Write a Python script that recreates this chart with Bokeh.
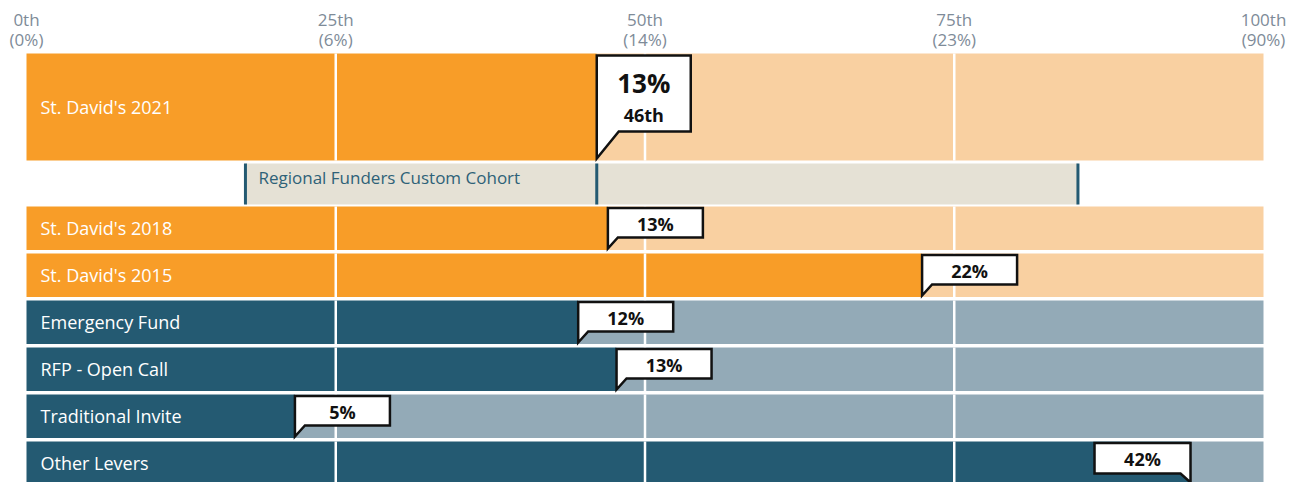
from bokeh.plotting import figure
from bokeh.models import Range1d, ColumnDataSource
from bokeh.core.properties import value
from bokeh.embed import file_html
from bokeh.resources import INLINE

# ---------------- data ----------------
categories = ["St. David's 2021", "St. David's 2018", "St. David's 2015",
              "Emergency Fund", "RFP - Open Call", "Traditional Invite", "Other Levers"]
percentiles = [46.1, 47.0, 72.4, 44.6, 47.7, 21.7, 94.1]
value_labels = ["13%", "13%", "22%", "12%", "13%", "5%", "42%"]
groups = ["org", "org", "org", "lever", "lever", "lever", "lever"]
highlight_rank = "46th"

tick_pcts = [0, 25, 50, 75, 100]
tick_ranks = ["0th", "25th", "50th", "75th", "100th"]
tick_values = ["(0%)", "(6%)", "(14%)", "(23%)", "(90%)"]

cohort_name = "Regional Funders Custom Cohort"
cohort_low, cohort_mid, cohort_high = 17.7, 46.1, 85

# ---------------- styling / layout ----------------
FONT = value("Open Sans")
DARK = {"org": "#F89D28", "lever": "#245A72"}
LIGHT = {"org": "#F9D0A1", "lever": "#93AAB7"}
BEIGE = "#E5E1D5"
MARK = "#245A72"
GREY = "#7E8B98"

W, H = 1299, 482
SCALE = 12.37          # px per percentile unit
LEFT_PX = 26           # px from figure left to 0th
def px(n):
    return n / SCALE

x0 = -LEFT_PX / SCALE
x1 = x0 + W / SCALE

p = figure(width=W, height=H, x_range=Range1d(x0, x1), y_range=Range1d(H, 0),
           output_backend="svg", toolbar_location=None, min_border=0,
           x_axis_location=None, y_axis_location=None)
p.grid.visible = False
p.outline_line_color = None
p.background_fill_color = "white"

# row geometry (pixel based y coordinates, top-down)
tops = [53]
bottoms = [160]
for i in range(1, len(categories)):
    t = 206 + 47 * (i - 1)
    tops.append(t)
    bottoms.append(t + 43.5)
cohort_top, cohort_bottom = 163, 204

dark_c = [DARK[g] for g in groups]
light_c = [LIGHT[g] for g in groups]

src = ColumnDataSource(dict(cat=categories, pct=percentiles, top=tops, bottom=bottoms,
                            zero=[0] * len(categories), full=[100] * len(categories),
                            dark=dark_c, light=light_c,
                            mid=[(a + b) / 2 for a, b in zip(tops, bottoms)]))

p.quad(left="zero", right="pct", top="top", bottom="bottom", fill_color="dark",
       line_color=None, source=src)
p.quad(left="pct", right="full", top="top", bottom="bottom", fill_color="light",
       line_color=None, source=src)

# white vertical grid lines inside bars
gx, gy0, gy1 = [], [], []
for tp, bt in zip(tops, bottoms):
    for g in tick_pcts[1:-1]:
        gx.append(g); gy0.append(tp); gy1.append(bt)
p.segment(x0=gx, y0=gy0, x1=gx, y1=gy1, line_color="white", line_width=2.5)

# row labels
p.text(x="zero", y="mid", text="cat", source=src, x_offset=14, text_baseline="middle",
       text_align="left", text_color="white", text_font=FONT, text_font_size="18px")

# cohort band
p.quad(left=[cohort_low], right=[cohort_high], top=[cohort_top], bottom=[cohort_bottom],
       fill_color=BEIGE, line_color=None)
cm = [cohort_low, cohort_mid, cohort_high]
p.segment(x0=cm, y0=[cohort_top] * 3, x1=cm, y1=[cohort_bottom] * 3,
          line_color=MARK, line_width=3)
p.text(x=[cohort_low], y=[177], text=[cohort_name], x_offset=13, text_baseline="middle",
       text_color="#2E6178", text_font=FONT, text_font_size="17px")

# tick labels on top
p.text(x=tick_pcts, y=[18.5] * 5, text=tick_ranks, text_align="center", text_baseline="middle",
       text_color=GREY, text_font=FONT, text_font_size="17px")
p.text(x=tick_pcts, y=[38.5] * 5, text=tick_values, text_align="center", text_baseline="middle",
       text_color=GREY, text_font=FONT, text_font_size="17px")

# callouts
xs, ys = [], []
tx, ty, tt = [], [], []
for i, (v, lab, tp, bt) in enumerate(zip(percentiles, value_labels, tops, bottoms)):
    if i == 0:
        bw, bT, bB, apex, tw = 94, tp + 2, tp + 78, bt - 2, 22
        L = v
        xs.append([L, L + px(bw), L + px(bw), L + px(tw), L])
        ys.append([bT, bT, bB, bB, apex])
    elif v > 85:
        bw, bT, bB, apex, tw = 96, tp + 1.5, tp + 32, tp + 41, 10
        R = v
        xs.append([R, R - px(bw), R - px(bw), R - px(tw), R])
        ys.append([bT, bT, bB, bB, apex])
        tx.append(R - px(bw / 2)); ty.append((bT + bB) / 2 + 1); tt.append(lab)
    else:
        bw, bT, bB, apex, tw = 95, tp + 1.5, tp + 31, bt - 1.5, 10
        L = v
        xs.append([L, L + px(bw), L + px(bw), L + px(tw), L])
        ys.append([bT, bT, bB, bB, apex])
        tx.append(L + px(bw / 2)); ty.append((bT + bB) / 2 + 1); tt.append(lab)

p.patches(xs=xs, ys=ys, fill_color="white", line_color="#111111", line_width=2.5,
          line_join="miter")
p.text(x=tx, y=ty, text=tt, text_align="center", text_baseline="middle",
       text_color="#111111", text_font=FONT, text_font_size="18px", text_font_style="bold")

# big callout text
bx = percentiles[0] + px(47)
p.text(x=[bx], y=[tops[0] + 29], text=[value_labels[0]], text_align="center",
       text_baseline="middle", text_color="#111111", text_font=FONT,
       text_font_size="26px", text_font_style="bold")
p.text(x=[bx], y=[tops[0] + 61], text=[highlight_rank], text_align="center",
       text_baseline="middle", text_color="#111111", text_font=FONT,
       text_font_size="18px", text_font_style="bold")

open("out.html", "w").write(file_html(p, INLINE))
